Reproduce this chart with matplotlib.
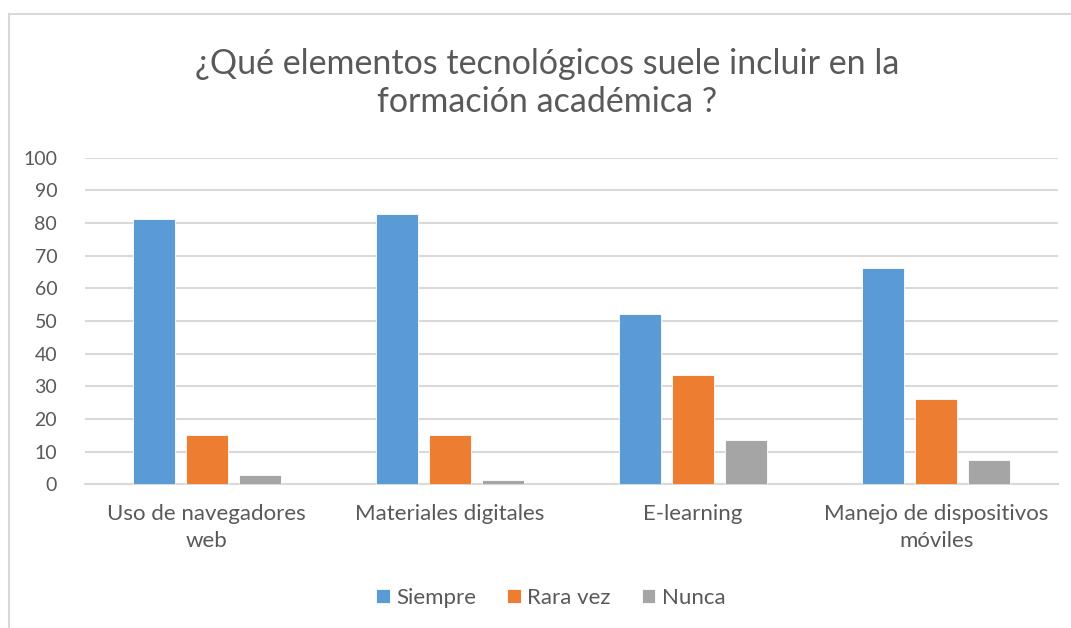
import numpy as np
import matplotlib
matplotlib.use("Agg")
from matplotlib import pyplot as plt
from matplotlib.lines import Line2D

categories = ["Uso de navegadores\nweb", "Materiales digitales", "E-learning",
              "Manejo de dispositivos\nmóviles"]
siempre = [81.2, 82.9, 52.0, 66.1]
rara_vez = [15.2, 15.2, 33.6, 26.0]
nunca = [2.9, 1.3, 13.6, 7.5]
series_names = ["Siempre", "Rara vez", "Nunca"]
colors = ["#5b9bd5", "#ed7d31", "#a5a5a5"]
yticks = list(range(0, 101, 10))

text_color = "#595959"
grid_color = "#d9d9d9"
plt.rcParams["font.family"] = ["Lato", "DejaVu Sans"]

fig = plt.figure(figsize=(10.71, 6.28), dpi=100)
ax = fig.add_axes([85 / 1071, 1 - 484.3 / 628, (1058 - 85) / 1071, (484.3 - 157.7) / 628])

x = np.arange(len(categories))
width = 0.173
step = 0.218
for i, (vals, name, c) in enumerate(zip([siempre, rara_vez, nunca], series_names, colors)):
    ax.bar(x + (i - 1) * step, vals, width, color=c, label=name, zorder=3,
           edgecolor="white", linewidth=0.6)

ax.set_xlim(-0.5, len(categories) - 0.5)
ax.set_ylim(0, 100)
ax.set_yticks(yticks)
ax.set_xticks(x)
ax.set_xticklabels(categories, fontsize=16, color=text_color, linespacing=1.45)
ax.tick_params(axis="y", labelsize=14, colors=text_color, length=0, pad=20)
ax.tick_params(axis="x", length=0, pad=14)
ax.grid(axis="y", color=grid_color, linewidth=1.5, zorder=0)
for s in ["top", "right", "left"]:
    ax.spines[s].set_visible(False)
ax.spines["bottom"].set_color(grid_color)
ax.spines["bottom"].set_linewidth(1.5)

fig.text(547 / 1071, 1 - 83 / 628,
         "¿Qué elementos tecnológicos suele incluir en la\nformación académica ?",
         ha="center", va="center", fontsize=24.5, color=text_color, linespacing=1.25)

handles, labels = ax.get_legend_handles_labels()
fig.legend(handles, labels, loc="center", bbox_to_anchor=(551 / 1071, 1 - 598 / 628),
           ncol=3, frameon=False, fontsize=16, labelcolor=text_color,
           handlelength=0.6, handleheight=0.6, handletextpad=0.3, columnspacing=1.4)

# chart border (left and top edges visible)
fig.add_artist(Line2D([9 / 1071, 9 / 1071], [0, 1 - 14 / 628], color="#d9d9d9", linewidth=1.5))
fig.add_artist(Line2D([9 / 1071, 1], [1 - 14 / 628, 1 - 14 / 628], color="#d9d9d9", linewidth=1.5))

fig.savefig("out.png", dpi=100)
